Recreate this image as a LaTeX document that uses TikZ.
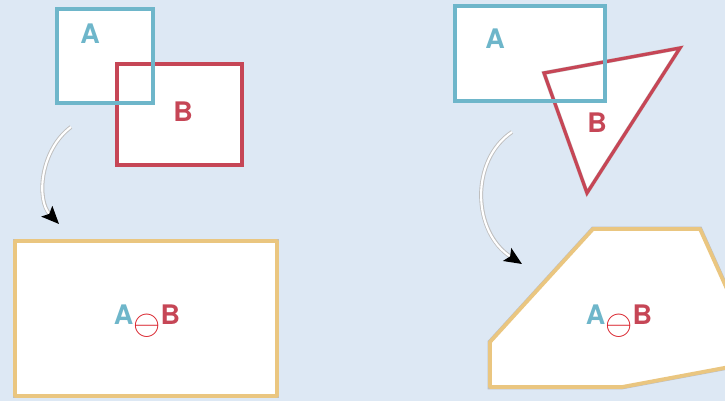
\documentclass[tikz,border=0pt]{standalone}
\usepackage{fontspec}
\setsansfont{TeX Gyre Heros}
\usepackage{tikz}
\usetikzlibrary{arrows.meta,positioning}

\definecolor{bgblue}{RGB}{221,232,244}
\definecolor{setA}{RGB}{110,182,202}
\definecolor{setB}{RGB}{198,70,86}
\definecolor{diffY}{RGB}{234,198,128}
\definecolor{opred}{RGB}{215,20,30}

\tikzset{
  setfill/.style={fill=white},
  rimA/.style={draw=setA, line width=2.8pt, line join=miter,
    preaction={draw=black!28, line width=3.6pt}},
  rimB/.style={draw=setB, line width=2.8pt, line join=miter,
    preaction={draw=black!20, line width=3.4pt}},
  diffbox/.style={draw=diffY, line width=3.2pt, fill=white, line join=round,
    preaction={draw=black!25, line width=4pt}},
  letter/.style={font=\sffamily\bfseries\fontsize{23}{25}\selectfont, inner sep=0pt},
  arrowrim/.style={draw=black!25, line width=3.4pt, shorten >=11pt},
  arrowcore/.style={draw=white, line width=1.8pt,
    -{Stealth[black, length=15pt, width=13pt, inset=3pt]}},
}

\newcommand{\diffof}{{\color{setA}A}\raisebox{-0.7ex}{\color{opred}\scalebox{1.2}{$\ominus$}}{\color{setB}B}}

\begin{document}
\begin{tikzpicture}[x=0.03cm, y=-0.03cm]
\fill[bgblue] (0,0) rectangle (725,401);
\useasboundingbox (0,0) rectangle (725,401);

% two overlapping rectangles
\fill[setfill] (57,9) rectangle (153,103);
\fill[setfill] (117,64) rectangle (242,165);
\draw[rimB] (117,64) rectangle (242,165);
\draw[rimA] (57,9) rectangle (153,103);
\node[letter, setA] (rectA) at (90,34) {A};
\node[letter, setB] (rectB) at (183,112) {B};

% rectangle and triangle
\coordinate (tri1) at (544,73);
\coordinate (tri2) at (680,48);
\coordinate (tri3) at (587,193);
\fill[setfill] (455,6) rectangle (605,101);
\fill[setfill] (tri1) -- (tri2) -- (tri3) -- cycle;
\draw[rimB] (tri1) -- (tri2) -- (tri3) -- cycle;
\draw[rimA] (455,6) rectangle (605,101);
\node[letter, setA] (boxA) at (495,39) {A};
\node[letter, setB] (triB) at (597,123) {B};

% results
\draw[diffbox] (15,241) rectangle (277,396);
\node[letter] (diffL) at (147,321) {\diffof};

\draw[diffbox] (593,229) -- (700,229) -- (740,318) -- (740,365)
  -- (622,387) -- (490,387) -- (490,342) -- cycle;
\node[letter] (diffR) at (619,321) {\diffof};

% curved arrows
\coordinate (arrL0) at (71,127);
\coordinate (arrL1) at (59,224);
\coordinate (arrR0) at (512,132);
\coordinate (arrR1) at (522,264);
\draw[arrowrim] (arrL0) .. controls (40,150) and (36,200) .. (arrL1);
\draw[arrowcore] (arrL0) .. controls (40,150) and (36,200) .. (arrL1);
\draw[arrowrim] (arrR0) .. controls (470,160) and (472,232) .. (arrR1);
\draw[arrowcore] (arrR0) .. controls (470,160) and (472,232) .. (arrR1);
\end{tikzpicture}
\end{document}
